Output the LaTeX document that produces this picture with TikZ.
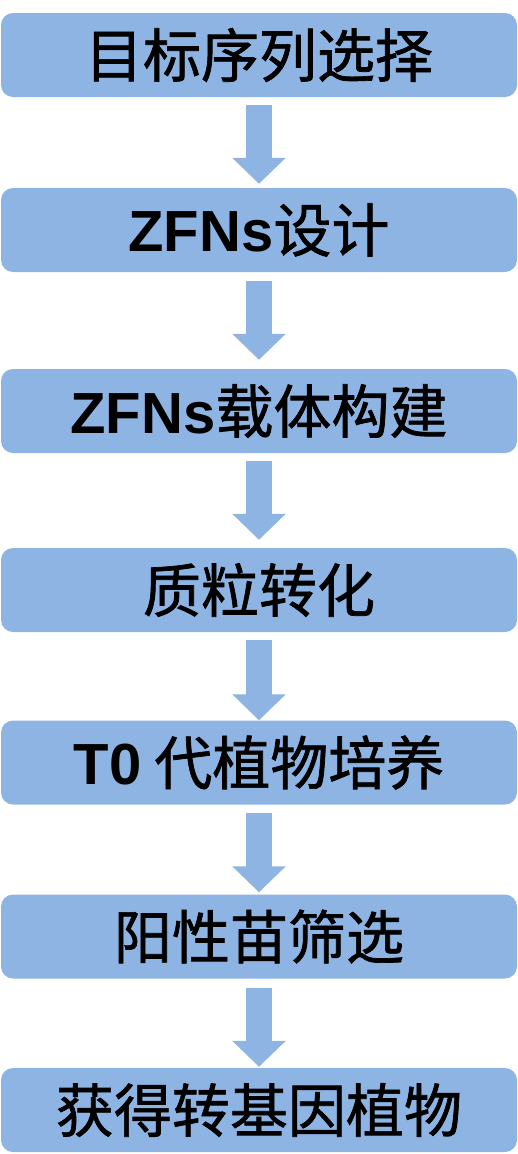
\documentclass[tikz,border=0pt]{standalone}
\usepackage{fontspec}
\newfontfamily\cjk[FakeBold=1.2]{Noto Sans CJK SC}
\newfontfamily\lat{Liberation Sans}
\usetikzlibrary{arrows.meta}
\definecolor{boxblue}{HTML}{8EB4E3}
\tikzset{
  stepbox/.style={fill=boxblue, draw=none, rounded corners=12pt,
    minimum width=516pt, minimum height=84pt, inner sep=0pt,
    font=\cjk\fontsize{58}{62}\selectfont, text=black},
  flowarrow/.style={draw=boxblue, line width=26pt,
    -{Triangle[length=26pt,width=52pt]}}
}
\newcommand{\lt}[1]{{\lat\bfseries #1}}
\begin{document}
\begin{tikzpicture}[x=1pt,y=-1pt]
\useasboundingbox (0,0) rectangle (518,1154);
\node[stepbox] (b1) at (259,55) {目标序列选择};
\node[stepbox] (b2) at (259,230) {\lt{ZFNs}设计};
\node[stepbox] (b3) at (259,411) {\lt{ZFNs}载体构建};
\node[stepbox] (b4) at (259,590) {质粒转化};
\node[stepbox] (b5) at (259,762.5) {\lt{T0} 代植物培养};
\node[stepbox] (b6) at (259,936.5) {阳性苗筛选};
\node[stepbox] (b7) at (259,1110) {获得转基因植物};
\draw[flowarrow, shorten <=8pt, shorten >=4pt] (b1) -- (b2);
\draw[flowarrow, shorten <=9pt, shorten >=9pt] (b2) -- (b3);
\draw[flowarrow, shorten <=8pt, shorten >=8pt] (b3) -- (b4);
\draw[flowarrow, shorten <=8pt, shorten >=0pt] (b4) -- (b5);
\draw[flowarrow, shorten <=8pt, shorten >=2pt] (b5) -- (b6);
\draw[flowarrow, shorten <=9pt, shorten >=1pt] (b6) -- (b7);
\end{tikzpicture}
\end{document}
